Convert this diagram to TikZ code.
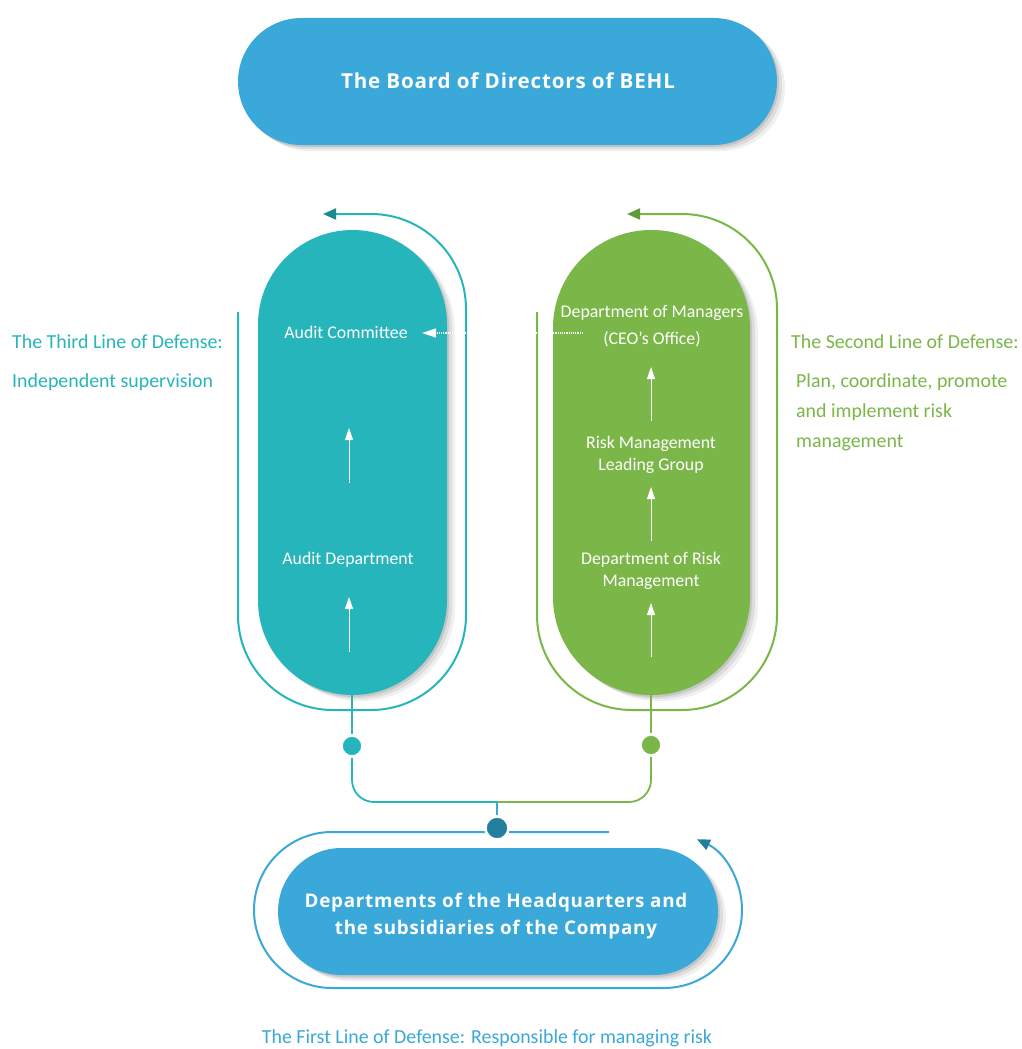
\documentclass[tikz,border=0pt]{standalone}
\usepackage{fontspec}
\setmainfont{Carlito}
\newfontfamily\titlefont[LetterSpace=4]{Open Sans}
\usetikzlibrary{arrows.meta,shadows}
\definecolor{cblue}{HTML}{3AA8D8}
\definecolor{cteal}{HTML}{26B5BB}
\definecolor{cgreen}{HTML}{7AB648}
\definecolor{cdblue}{HTML}{237FA0}
\definecolor{cdteal}{HTML}{1E8A8E}
\definecolor{cdgreen}{HTML}{5E9A3A}
\tikzset{
  softshadow/.style={
    drop shadow={shadow xshift=2pt,shadow yshift=-2pt,opacity=0.10,fill=black},
    drop shadow={shadow xshift=5pt,shadow yshift=-4pt,opacity=0.08,fill=black},
    drop shadow={shadow xshift=8pt,shadow yshift=-6pt,opacity=0.06,fill=black}},
  pill/.style={rectangle,inner sep=0pt,draw=none,softshadow},
  ptext/.style={text=white,font=\fontsize{17.8}{22}\selectfont,align=center,inner sep=0pt},
  ttext/.style={text=white,font=\titlefont\bfseries\fontsize{18.8}{27}\selectfont,align=center,inner sep=0pt},
  stext/.style={font=\fontsize{19.9}{30}\selectfont,inner sep=0pt,anchor=base west},
  uparrow/.style={white,line width=0.8pt,-{Triangle[width=8pt,length=12pt]}},
  dot/.style={circle,inner sep=0pt,draw=white,line width=2.5pt},
}
\begin{document}
\begin{tikzpicture}[x=1pt,y=-1pt]
\useasboundingbox (0,0) rectangle (1021,1049);
\fill[white] (0,0) rectangle (1021,1049);

% outlines
\draw[cteal,line width=2pt,rounded corners=95pt,-{Triangle[width=11pt,length=13pt,color=cdteal]}]
  (238,312) -- (238,710) -- (466,710) -- (466,214) -- (323,214);
\draw[cgreen,line width=2pt,rounded corners=95pt,-{Triangle[width=11pt,length=13pt,color=cdgreen]}]
  (537,312) -- (537,710) -- (777,710) -- (777,214) -- (627,214);
\draw[cblue,line width=2pt,-{Triangle[width=11pt,length=13pt,color=cdblue]}]
  (609,832) -- (332,832) arc(270:90:78) -- (664,988) arc(90:-65:78);

% pills
\node[pill,fill=cblue,minimum width=539pt,minimum height=127pt,rounded corners=63.5pt] (tp) at (507.5,81.5) {};
\node[ttext,font=\titlefont\bfseries\fontsize{20.6}{27}\selectfont] (tpt) at (508,81) {The Board of Directors of BEHL};
\node[pill,fill=cteal,minimum width=189pt,minimum height=465pt,rounded corners=94.5pt] (lp) at (352.5,462.5) {};
\node[pill,fill=cgreen,minimum width=197pt,minimum height=465pt,rounded corners=98pt] (rp) at (651.5,462.5) {};
\node[pill,fill=cblue,minimum width=440pt,minimum height=127pt,rounded corners=63.5pt] (bp) at (498,911.5) {};
\node[ttext] (bpt) at (496,916) {Departments of the Headquarters and\\the subsidiaries of the Company};

% texts inside pills (base = last line)
\node[ptext,anchor=base] (ac) at (346,338) {Audit Committee};
\node[ptext,anchor=base] (ad) at (348,564) {Audit Department};
\node[ptext,anchor=base] (dm) at (652,344) {Department of Managers\\[5pt](CEO’s Office)};
\node[ptext,anchor=base] (rm) at (651,470) {Risk Management\\Leading Group};
\node[ptext,anchor=base] (dr) at (651,586) {Department of Risk\\Management};

% internal arrows
\coordinate (l1s) at (349,652); \coordinate (l1e) at (349,597);
\coordinate (l2s) at (349,483); \coordinate (l2e) at (349,428);
\coordinate (r1s) at (651,657); \coordinate (r1e) at (651,603);
\coordinate (r2s) at (651,541); \coordinate (r2e) at (651,487);
\coordinate (r3s) at (651,421); \coordinate (r3e) at (651,367);
\draw[uparrow] (l1s) -- (l1e);
\draw[uparrow] (l2s) -- (l2e);
\draw[uparrow] (r1s) -- (r1e);
\draw[uparrow] (r2s) -- (r2e);
\draw[uparrow] (r3s) -- (r3e);

% dotted arrow
\coordinate (dots) at (583,333);
\coordinate (dote) at (422,333);
\draw[white,line width=1.2pt,dash pattern=on 1.2pt off 1pt,-{Triangle[width=9pt,length=14pt]}] (dots) -- (dote);

% connector dots
\node[dot,fill=cteal,minimum size=21pt] (lc) at (352,746) {};
\node[dot,fill=cgreen,minimum size=21pt] (rc) at (651,745) {};
\node[dot,fill=cdblue,minimum size=23pt] (bc) at (497,828) {};
\coordinate (jn) at (497,802);

\draw[cteal,line width=1.8pt] (lp.south -| lc) -- (lc.north);
\draw[cgreen,line width=1.8pt] (rp.south -| rc) -- (rc.north);
\draw[cteal,line width=1.8pt,rounded corners=22pt] (lc.south) -- (352,802) -- (jn);
\draw[cgreen,line width=1.8pt,rounded corners=22pt] (rc.south) -- (651,802) -- (jn);
\draw[cblue,line width=2.5pt] (jn) -- (bc.north);

% side texts
\node[stext,text=cteal] (t3a) at (12,348) {The Third Line of Defense:};
\node[stext,text=cteal] (t3b) at (12,387) {Independent supervision};
\node[stext,text=cgreen] (t2a) at (791,348) {The Second Line of Defense:};
\node[stext,text=cgreen] (t2b) at (796,387) {Plan, coordinate, promote};
\node[stext,text=cgreen] (t2c) at (796,417) {and implement risk};
\node[stext,text=cgreen] (t2d) at (796,447) {management};
\node[stext,text=cblue,anchor=base] (t1) at (487,1043) {The First Line of Defense: Responsible for managing risk};
\end{tikzpicture}
\end{document}
